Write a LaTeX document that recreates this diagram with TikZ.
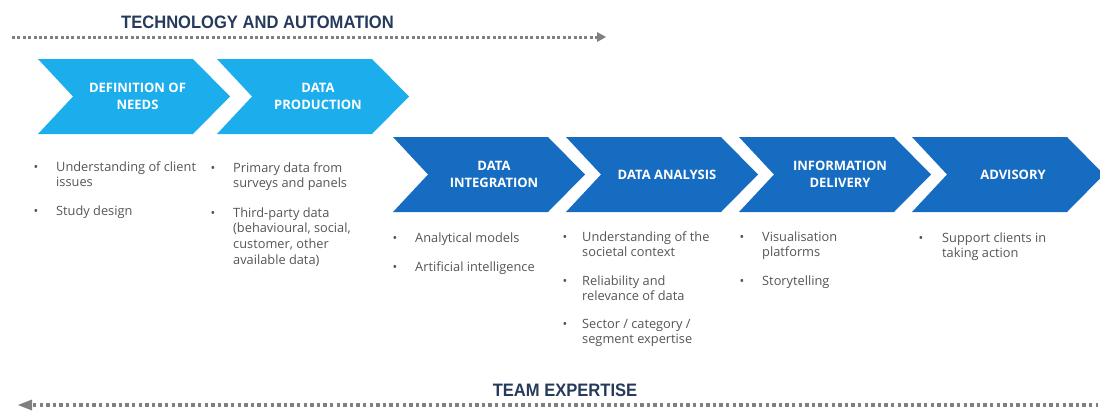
\documentclass[tikz,border=0pt]{standalone}
\usepackage{fontspec}
\setmainfont{Open Sans}
\newfontfamily\headf[FakeStretch=0.92]{Liberation Sans}
\definecolor{lightblue}{RGB}{28,174,236}
\definecolor{darkblue}{RGB}{22,108,192}
\definecolor{navy}{RGB}{38,58,92}
\definecolor{dotgray}{RGB}{128,128,128}
\definecolor{txtgray}{RGB}{85,85,85}
\tikzset{
  headtxt/.style={font=\headf\bfseries\fontsize{18}{20}\selectfont, text=navy, inner sep=0pt, anchor=base},
  chevtxt/.style={font=\bfseries\fontsize{13}{17}\selectfont, text=white, align=center, inner sep=0pt},
  itemtxt/.style={font=\fontsize{12.8}{15.7}\selectfont, text=txtgray, anchor=base west, inner sep=0pt},
  bul/.style={font=\fontsize{12.5}{14}\selectfont, text=txtgray, anchor=base, inner sep=0pt},
  dotline/.style={draw=dotgray, line width=3pt, dash pattern=on 3pt off 2.4pt},
  dotlineb/.style={draw=dotgray, line width=3.2pt, dash pattern=on 3.3pt off 3.3pt},
}
\newcommand{\chev}[4]{% x, y, colour, name
  \fill[#3] (#1,#2) -- ++(155,0) -- ++(37,37.5) -- ++(-37,37.5) -- ++(-155,0) -- ++(35,-37.5) -- cycle;
  \coordinate (#4) at ({#1+101},{#2+37.5});
}
\newcommand{\bitem}[5]{% name, bullet x, text x, baseline, text
  \node[bul] (#1b) at (#2,#4) {•};
  \node[itemtxt] (#1) at (#3,#4) {\begin{tabular}[t]{@{}l@{}}#5\end{tabular}};
}
\begin{document}
\begin{tikzpicture}[x=1pt,y=-1pt]
\useasboundingbox (0,0) rectangle (1100,410);
% top arrow
\node[headtxt] (tech) at (257.5,28) {TECHNOLOGY AND AUTOMATION};
\coordinate (t0) at (12,37);
\coordinate (t1) at (606,37);
\draw[dotline] (t0) -- (597,37);
\fill[dotgray] (597,32) -- (t1) -- (597,42) -- cycle;
% chevrons
\chev{38}{59}{lightblue}{c1}
\chev{217}{59}{lightblue}{c2}
\chev{393}{137}{darkblue}{c3}
\chev{566}{137}{darkblue}{c4}
\chev{739}{137}{darkblue}{c5}
\chev{912}{137}{darkblue}{c6}
\node[chevtxt] (n1) at ([xshift=-1.5pt]c1) {DEFINITION OF\\NEEDS};
\node[chevtxt] (n2) at (c2) {DATA\\PRODUCTION};
\node[chevtxt] (n3) at (c3) {DATA\\INTEGRATION};
\node[chevtxt] (n4) at (c4) {DATA ANALYSIS};
\node[chevtxt] (n5) at (c5) {INFORMATION\\DELIVERY};
\node[chevtxt] (n6) at (c6) {ADVISORY};
% bullets
\bitem{a1}{36}{56}{171}{Understanding of client\\issues}
\bitem{a2}{36}{56}{215}{Study design}
\bitem{b1}{213}{233}{172}{Primary data from\\surveys and panels}
\bitem{b2}{213}{233}{217}{Third-party data\\(behavioural, social,\\customer, other\\available data)}
\bitem{c1i}{395}{415}{242}{Analytical models}
\bitem{c2i}{395}{415}{271}{Artificial intelligence}
\bitem{d1}{565}{582}{241}{Understanding of the\\societal context}
\bitem{d2}{565}{582}{285}{Reliability and\\relevance of data}
\bitem{d3}{565}{582}{328}{Sector / category /\\segment expertise}
\bitem{e1}{742}{762}{241}{Visualisation\\platforms}
\bitem{e2}{742}{762}{285}{Storytelling}
\bitem{f1}{921}{942}{242}{Support clients in\\taking action}
% bottom arrow
\node[headtxt] (team) at (565,396) {TEAM EXPERTISE};
\coordinate (b0) at (18,405);
\coordinate (b1e) at (1098,405);
\draw[dotlineb] (33,405) -- (b1e);
\fill[dotgray] (32,399.5) -- (b0) -- (32,410.5) -- cycle;
\end{tikzpicture}
\end{document}
